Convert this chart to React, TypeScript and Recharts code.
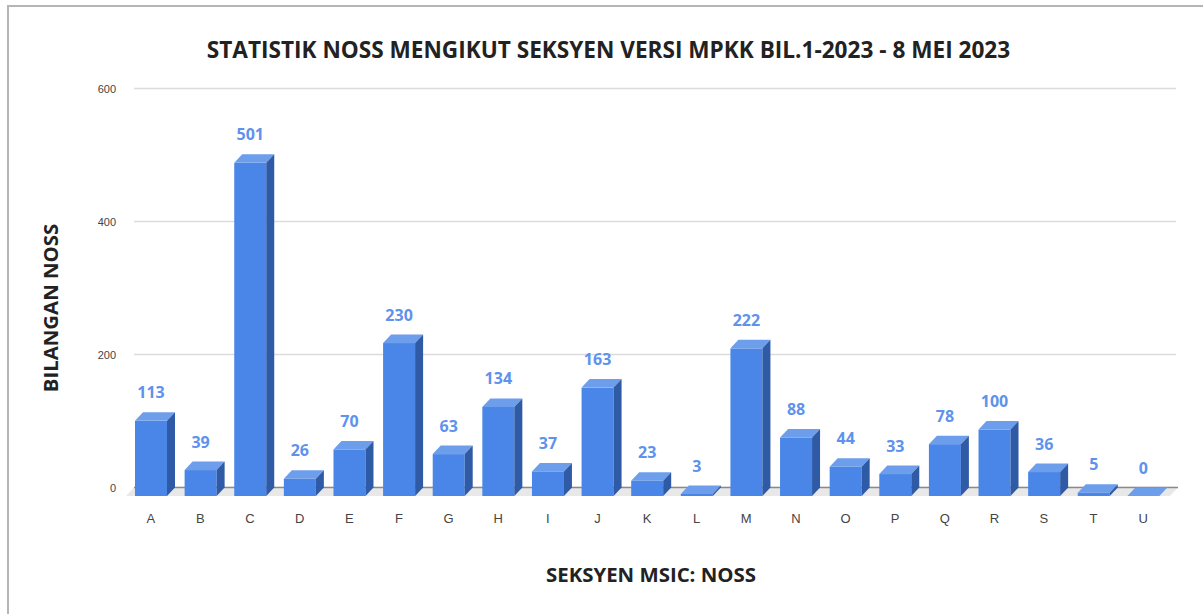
import React from "react";
import {
  BarChart,
  Bar,
  XAxis,
  YAxis,
  CartesianGrid,
  ReferenceArea,
  LabelList,
} from "recharts";

const categories = ["A", "B", "C", "D", "E", "F", "G", "H", "I", "J", "K", "L", "M", "N", "O", "P", "Q", "R", "S", "T", "U"];
const values = [113, 39, 501, 26, 70, 230, 63, 134, 37, 163, 23, 3, 222, 88, 44, 33, 78, 100, 36, 5, 0];
const yTicks = [0, 200, 400, 600];

const title = "STATISTIK NOSS MENGIKUT SEKSYEN VERSI MPKK BIL.1-2023 - 8 MEI 2023";
const xTitle = "SEKSYEN MSIC: NOSS";
const yTitle = "BILANGAN NOSS";

const data = categories.map((c, i) => ({ cat: c, value: values[i] }));

const DX = 8;
const DY = 8.5;
const FRONT = "#4a86e8";
const TOP = "#6d9eeb";
const SIDE = "#2f5aa6";
const LABEL = "#5e92ec";

const Bar3D = (props: any) => {
  const { x, y, width, height } = props;
  const h = Math.max(0, height || 0);
  const fx = x - DX;
  const fy = y + DY;
  return (
    <g>
      <rect x={fx} y={fy} width={width} height={h} fill={FRONT} />
      <polygon
        points={`${fx},${fy} ${x},${y} ${x + width},${y} ${fx + width},${fy}`}
        fill={TOP}
      />
      {h > 0 && (
        <polygon
          points={`${fx + width},${fy} ${x + width},${y} ${x + width},${y + h} ${fx + width},${fy + h}`}
          fill={SIDE}
        />
      )}
    </g>
  );
};

const Floor = (props: any) => {
  const { x, y, width, height } = props;
  const yb = y + height;
  return (
    <g>
      <polygon
        points={`${x},${yb} ${x + width + 2},${yb} ${x + width + 2 - DX},${yb + DY} ${x - DX},${yb + DY}`}
        fill="#e8e8e8"
      />
      <line x1={x} y1={yb} x2={x + width + 2} y2={yb} stroke="#8a8a8a" strokeWidth={1.5} />
    </g>
  );
};

const YTick = (props: any) => {
  const { y, payload } = props;
  return (
    <text x={116} y={y + 4} textAnchor="end" fontSize={11} fill="#444" fontFamily="Liberation Sans, Arial, sans-serif">
      {payload.value}
    </text>
  );
};

const XTick = (props: any) => {
  const { x, payload } = props;
  return (
    <text x={x - DX} y={523} textAnchor="middle" fontSize={13} fill="#444" fontFamily="Liberation Sans, Arial, sans-serif">
      {payload.value}
    </text>
  );
};

const ValueLabel = (props: any) => {
  const { x, y, width, value } = props;
  return (
    <text
      x={x + width / 2 - DX}
      y={y - 14}
      textAnchor="middle"
      fontSize={16}
      fontWeight="bold"
      fill={LABEL}
      fontFamily="Open Sans, sans-serif"
    >
      {value}
    </text>
  );
};

export default function App() {
  return (
    <div
      style={{
        position: "fixed",
        left: 0,
        top: 0,
        width: 1203,
        height: 614,
        overflow: "hidden",
        background: "#fff",
      }}
    >
      <div
        style={{
          position: "absolute",
          left: 7,
          top: 5,
          width: 1300,
          height: 700,
          borderLeft: "2px solid #b5b5b5",
          borderTop: "2px solid #b5b5b5",
        }}
      />
      <div style={{ position: "absolute", left: 0, top: 0 }}>
        <BarChart
          width={1203}
          height={614}
          data={data}
          margin={{ top: 88.5, right: 27, bottom: 0, left: 0 }}
          barSize={32}
        >
          <CartesianGrid horizontal vertical={false} stroke="#dcdcdc" strokeWidth={1.5} />
          <ReferenceArea y1={0} y2={600} shape={<Floor />} ifOverflow="visible" />
          <XAxis dataKey="cat" axisLine={false} tickLine={false} height={126.5} tick={<XTick />} interval={0} />
          <YAxis
            width={134}
            domain={[0, 600]}
            ticks={yTicks}
            axisLine={false}
            tickLine={false}
            tick={<YTick />}
          />
          <Bar dataKey="value" isAnimationActive={false} shape={<Bar3D />}>
            <LabelList dataKey="value" content={<ValueLabel />} />
          </Bar>
        </BarChart>
      </div>
      <div
        style={{
          position: "absolute",
          left: 0,
          width: 1217,
          top: 34.1,
          textAlign: "center",
          fontFamily: "Open Sans, sans-serif",
          fontWeight: 700,
          fontSize: 22.6,
          color: "#222",
          whiteSpace: "nowrap",
        }}
      >
        {title}
      </div>
      <div
        style={{
          position: "absolute",
          left: 451,
          width: 400,
          top: 560.2,
          textAlign: "center",
          fontFamily: "Open Sans, sans-serif",
          fontWeight: 700,
          fontSize: 20.4,
          color: "#222",
          whiteSpace: "nowrap",
        }}
      >
        {xTitle}
      </div>
      <div
        style={{
          position: "absolute",
          left: 50 - 100,
          width: 200,
          top: 308 - 14,
          height: 28,
          lineHeight: "28px",
          textAlign: "center",
          transform: "rotate(-90deg)",
          fontFamily: "Open Sans, sans-serif",
          fontWeight: 700,
          fontSize: 20.4,
          color: "#222",
          whiteSpace: "nowrap",
        }}
      >
        {yTitle}
      </div>
    </div>
  );
}
